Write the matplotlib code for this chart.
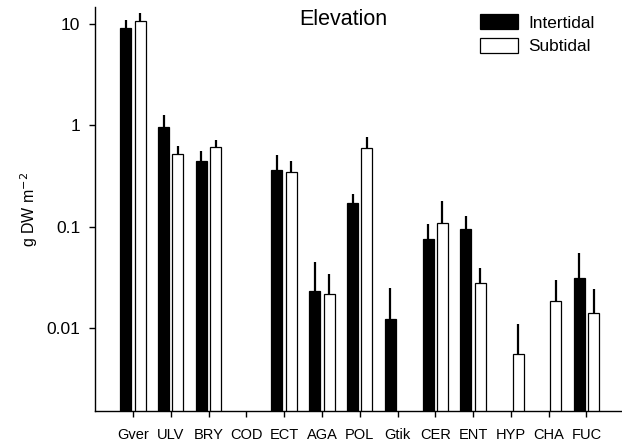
import numpy as np
import matplotlib
matplotlib.use("Agg")
from matplotlib import pyplot as plt
from matplotlib.patches import Patch

plt.rcParams["font.family"] = ["Liberation Sans", "DejaVu Sans"]

taxa = ["Gver", "ULV", "BRY", "COD", "ECT", "AGA", "POL",
        "Gtik", "CER", "ENT", "HYP", "CHA", "FUC"]
nan = np.nan
# mean biomass (g DW m-2) and upper end of the error bar
intertidal = [9.1, 0.96, 0.445, nan, 0.366, 0.0232, 0.173,
              0.0123, 0.0756, 0.096, nan, nan, 0.0314]
intertidal_top = [11.0, 1.27, 0.553, nan, 0.51, 0.0449, 0.212,
                  0.0247, 0.106, 0.127, nan, nan, 0.0545]
subtidal = [10.8, 0.52, 0.61, nan, 0.349, 0.0217, 0.593,
            nan, 0.109, 0.0278, 0.0055, 0.0187, 0.0140]
subtidal_top = [12.7, 0.625, 0.71, nan, 0.449, 0.034, 0.77,
                nan, 0.178, 0.0388, 0.011, 0.030, 0.0243]
yticks = [0.01, 0.1, 1, 10]
ytick_labels = ["0.01", "0.1", "1", "10"]

fig = plt.figure(figsize=(6.22, 4.44), dpi=100)
ax = fig.add_axes([0.1527, 0.0743, 0.8473, 0.9099])

x = np.arange(len(taxa))
w = 0.29
off = 0.19
base = 1e-5

for vals, tops, dx, fc in [(intertidal, intertidal_top, -off, "black"),
                           (subtidal, subtidal_top, off, "white")]:
    vals = np.asarray(vals)
    tops = np.asarray(tops)
    ax.bar(x + dx, vals - base, bottom=base, width=w, color=fc,
           edgecolor="black", linewidth=0.9, zorder=2)
    ok = ~np.isnan(vals)
    ax.vlines(x[ok] + dx, vals[ok], tops[ok], color="black",
              linewidth=1.6, zorder=1)

ax.set_yscale("log")
ax.set_ylim(0.00152, 14.7)
ax.set_xlim(-1.005, 12.94)
ax.set_yticks(yticks)
ax.set_yticklabels(ytick_labels)
ax.yaxis.set_minor_locator(matplotlib.ticker.NullLocator())
ax.set_xticks(x)
ax.set_xticklabels(taxa)
ax.tick_params(axis="both", length=4.5, width=1)
ax.tick_params(axis="y", labelsize=12.5, pad=6)
ax.tick_params(axis="x", labelsize=10.5, pad=8)

for s in ["top", "right"]:
    ax.spines[s].set_visible(False)
for s in ["left", "bottom"]:
    ax.spines[s].set_linewidth(1)

ax.set_ylabel("g DW m$^{-2}$", fontsize=11.5, labelpad=5)

fig.text(0.552, 0.955, "Elevation", fontsize=15.5, ha="center", va="center")

handles = [Patch(facecolor="black", edgecolor="black", linewidth=0.9),
           Patch(facecolor="white", edgecolor="black", linewidth=0.9)]
fig.legend(handles, ["Intertidal", "Subtidal"], loc="upper left",
           bbox_to_anchor=(0.761, 0.983), frameon=False, fontsize=12.4,
           handlelength=2.2, handleheight=0.95, handletextpad=0.6,
           labelspacing=0.4, borderaxespad=0)

fig.savefig("out.png", dpi=100)
